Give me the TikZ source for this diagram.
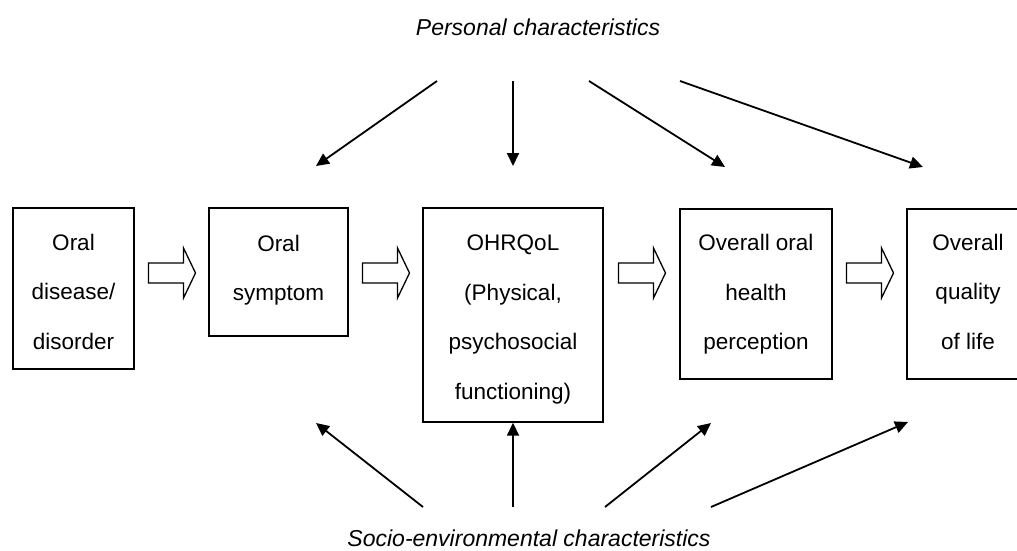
\documentclass[tikz,border=0pt]{standalone}
\usepackage{fontspec}
\setmainfont{Liberation Sans}
\usetikzlibrary{arrows.meta}
\begin{document}
\begin{tikzpicture}[x=1pt,y=-1pt,
  boxnode/.style={draw,line width=1.4pt,inner sep=0pt,align=center,
    font=\fontsize{22.5}{49.5}\selectfont},
  boxtext/.style={inner sep=0pt,align=center,font=\fontsize{22.5}{49.5}\selectfont},
  lbl/.style={font=\fontsize{23}{26}\selectfont\itshape,inner sep=0pt},
  infl/.style={line width=1.8pt,-{Triangle[length=13pt,width=12pt]}},
  hollow/.style={draw,line width=1.3pt,line join=miter}]
\useasboundingbox (0,0) rectangle (1017,551);
\clip (0,0) rectangle (1017,551);
% boxes
\node[boxnode,minimum width=121pt,minimum height=161pt] (b1) at (73.5,288.5) {};
\node[boxtext] (t1txt) at (73.5,291.5) {Oral\\disease/\\disorder};
\node[boxnode,minimum width=139pt,minimum height=128pt] (b2) at (278.5,272) {};
\node[boxtext] (t2txt) at (278.5,270) {Oral\\symptom};
\node[boxnode,minimum width=180pt,minimum height=214pt] (b3) at (513,315) {};
\node[boxtext] (t3txt) at (513,319.5) {OHRQoL\\(Physical,\\psychosocial\\functioning)};
\node[boxnode,minimum width=152pt,minimum height=170pt] (b4) at (756,294) {};
\node[boxtext] (t4txt) at (756,294.5) {Overall oral\\health\\perception};
\node[boxnode,minimum width=122pt,minimum height=170pt] (b5) at (968,294) {};
\node[boxtext] (t5txt) at (968,291.5) {Overall\\quality\\of life};
% labels
\node[lbl] (pc) at (538,27) {Personal characteristics};
\node[lbl] (se) at (529,538) {Socio-environmental characteristics};
% hollow arrows between boxes
\foreach \a/\b in {b1/b2,b2/b3,b3/b4,b4/b5}{
  \path (\a.east |- 0,273) -- (\b.west |- 0,273)
    coordinate[pos=0.5] (m\a);
  \draw[hollow] ([xshift=-23pt,yshift=-10pt]m\a) -- ([xshift=12pt,yshift=-10pt]m\a)
    -- ([xshift=12pt,yshift=-25pt]m\a) -- ([xshift=24pt]m\a)
    -- ([xshift=12pt,yshift=25pt]m\a) -- ([xshift=12pt,yshift=10pt]m\a)
    -- ([xshift=-23pt,yshift=10pt]m\a) -- cycle;
}
% influence arrows: personal
\coordinate (p1) at (437,81);
\coordinate (p2) at (513,81);
\coordinate (p3) at (589,81);
\coordinate (p4) at (680,81);
\coordinate (t1) at (316,166);
\coordinate (t4) at (725,167);
\coordinate (t5) at (923,167);
\draw[infl] (p1) -- (t1);
\draw[infl] (p2) -- (513,166);
\draw[infl] (p3) -- (t4);
\draw[infl] (p4) -- (t5);
% socio-environmental
\coordinate (s1) at (423,507);
\coordinate (s2) at (513,507);
\coordinate (s3) at (605,507);
\coordinate (s4) at (711,507);
\coordinate (u1) at (316,423);
\coordinate (u4) at (711,423);
\coordinate (u5) at (908,422);
\draw[infl] (s1) -- (u1);
\draw[infl] (s2) -- (b3.south);
\draw[infl] (s3) -- (u4);
\draw[infl] (s4) -- (u5);
\end{tikzpicture}
\end{document}
